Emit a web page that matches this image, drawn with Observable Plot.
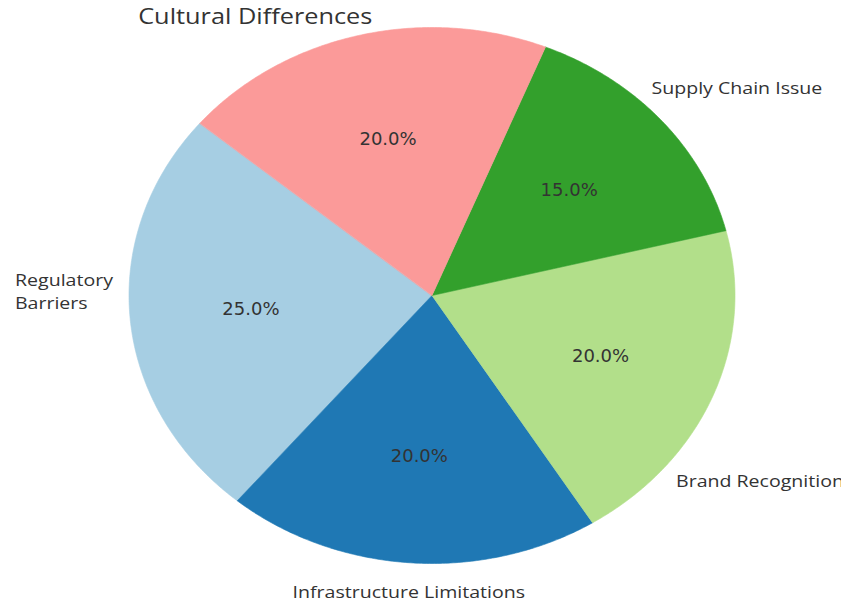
<!DOCTYPE html>
<html>
<head>
<meta charset="utf-8">
<script src="https://cdn.jsdelivr.net/npm/d3@7"></script>
<script src="https://cdn.jsdelivr.net/npm/@observablehq/plot@0.6"></script>
<style>
  html, body { margin: 0; padding: 0; background: #fff; }
  #chart svg { display: block; }
</style>
</head>
<body>
<div id="chart"></div>
<script>
// ---- data ----
const categories = ["Regulatory\nBarriers", "Infrastructure Limitations", "Brand Recognition", "Supply Chain Issue", "Cultural Differences"];
const shares = [25, 20, 20, 15, 20];
const sliceColors = ["#a6cee3", "#1f78b4", "#b2df8a", "#33a02c", "#fb9a99"];
const startAngle = 140; // degrees, counter-clockwise

// ---- layout tweaks (pixels) for outer labels ----
const labelLayout = {
  "Regulatory\nBarriers":        {anchor: "start",  dx: -85, dy: -31, size: 17},
  "Infrastructure Limitations":  {anchor: "middle", dx: 0,   dy: 1,   size: 17},
  "Brand Recognition":           {anchor: "start",  dx: -65, dy: 74,  size: 17},
  "Supply Chain Issue":          {anchor: "start",  dx: -32, dy: -16, size: 17},
  "Cultural Differences":        {anchor: "end",    dx: 21,  dy: 5,   size: 22}
};
const textStretch = 1.15;

const total = d3.sum(shares);
let acc = startAngle;
const slices = categories.map((c, i) => {
  const a0 = acc;
  const a1 = acc + shares[i] / total * 360;
  acc = a1;
  return {c, v: shares[i], a0, a1, mid: (a0 + a1) / 2};
});

const rad = d => d * Math.PI / 180;
const polyRows = [];
for (const s of slices) {
  polyRows.push({c: s.c, x: 0, y: 0});
  const n = Math.ceil(s.a1 - s.a0) * 2;
  for (let k = 0; k <= n; k++) {
    const a = rad(s.a0 + (s.a1 - s.a0) * k / n);
    polyRows.push({c: s.c, x: Math.cos(a), y: Math.sin(a)});
  }
}

const pctRows = slices.map(s => ({
  c: s.c,
  x: 0.6 * Math.cos(rad(s.mid)),
  y: 0.6 * Math.sin(rad(s.mid)),
  t: (s.v / total * 100).toFixed(1) + "%"
}));

const labelMarks = slices.map(s => {
  const L = labelLayout[s.c];
  return Plot.text([s], {
    x: d => 1.1 * Math.cos(rad(d.mid)),
    y: d => 1.1 * Math.sin(rad(d.mid)),
    text: d => d.c,
    textAnchor: L.anchor,
    dx: L.dx, dy: L.dy,
    fontSize: L.size,
    lineHeight: 1.38,
    fill: "#333",
    fontFamily: "'Open Sans', sans-serif"
  });
});

const cx = 431.5, cy = 295, rx = 303, ry = 268;
const chart = Plot.plot({
  width: 841,
  height: 603,
  margin: 0,
  x: {domain: [-1, 1], range: [cx - rx, cx + rx], axis: null},
  y: {domain: [-1, 1], range: [cy + ry, cy - ry], axis: null},
  color: {domain: categories, range: sliceColors},
  style: {background: "#fff"},
  marks: [
    Plot.line(polyRows, {x: "x", y: "y", z: "c", fill: "c", stroke: "c", strokeWidth: 0.6, curve: "linear-closed"}),
    Plot.text(pctRows, {x: "x", y: "y", text: "t", fontSize: 18, fill: "#333", fontFamily: "'DejaVu Sans', sans-serif"}),
    ...labelMarks
  ]
});
document.getElementById("chart").appendChild(chart);

// widen the outer labels horizontally, as in the reference
const flatNames = new Set(categories.map(c => c.replace(/\n/g, "")));
Array.from(chart.querySelectorAll("text"))
  .filter(t => flatNames.has(t.textContent.replace(/\s*\n\s*/g, "")))
  .forEach(t => {
    const spans = t.querySelectorAll("tspan");
    const els = spans.length ? Array.from(spans) : [t];
    els.forEach(el => {
      const w = el.getComputedTextLength();
      el.setAttribute("textLength", (w * textStretch).toFixed(1));
      el.setAttribute("lengthAdjust", "spacingAndGlyphs");
    });
  });
</script>
</body>
</html>
